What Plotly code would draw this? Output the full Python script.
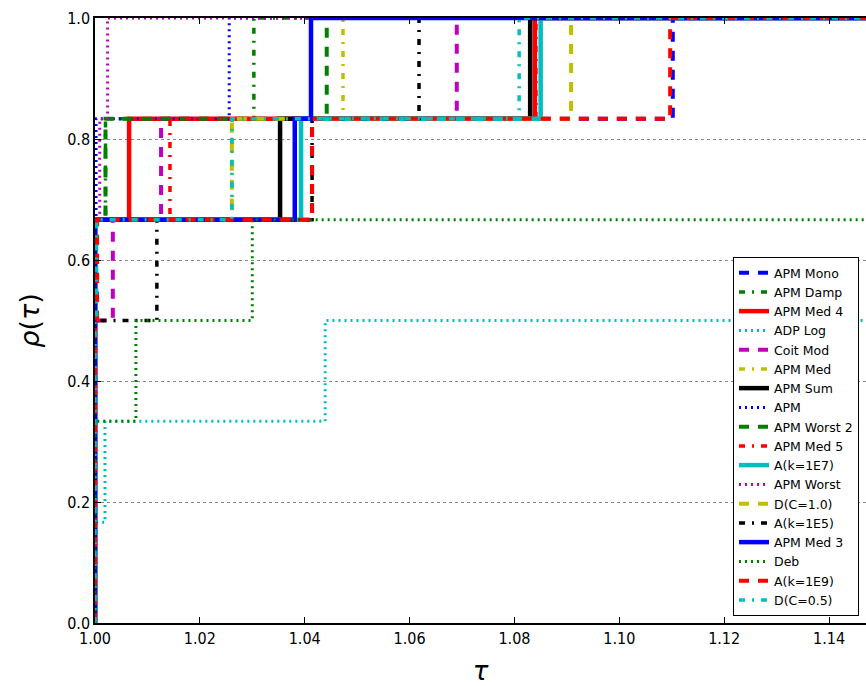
import plotly.graph_objects as go

# Performance profile: fraction of the 6 test problems solved within a factor tau of the best
N_PROBLEMS = 6
TAU_END = 1.2

solver_names = [
    "APM Mono", "APM Damp", "APM Med 4", "ADP Log", "Coit Mod", "APM Med",
    "APM Sum", "APM", "APM Worst 2", "APM Med 5", "A(k=1E7)", "APM Worst",
    "D(C=1.0)", "A(k=1E5)", "APM Med 3", "Deb", "A(k=1E9)", "D(C=0.5)",
]

# problems solved at tau = 1 (solver was best)
start_counts = [3, 4, 4, 1, 3, 4, 4, 4, 4, 4, 4, 4, 3, 3, 4, 2, 3, 3]

# tau values at which one more problem falls inside the profile
step_taus = [
    [1.0003, 1.0414, 1.1102],   # APM Mono
    [1.0020, 1.0303],           # APM Damp
    [1.0065, 1.0839],           # APM Med 4
    [1.0019, 1.0439],           # ADP Log
    [1.0034, 1.0126, 1.0690],   # Coit Mod
    [1.0262, 1.0473],           # APM Med
    [1.0353, 1.0830],           # APM Sum
    [1.0002, 1.0256],           # APM
    [1.0020, 1.0442],           # APM Worst 2
    [1.0143, 1.0841],           # APM Med 5
    [1.0393, 1.0850],           # A(k=1E7)
    [1.0009, 1.0024],           # APM Worst
    [1.0002, 1.0261, 1.0908],   # D(C=1.0)
    [1.0118, 1.0414, 1.0618],   # A(k=1E5)
    [1.0381, 1.0412],           # APM Med 3
    [1.0078, 1.0300],           # Deb
    [1.0004, 1.0414, 1.1097],   # A(k=1E9)
    [1.0003, 1.0261, 1.0809],   # D(C=0.5)
]

colors = {
    "b": "#0000ff", "g": "#008000", "r": "#ff0000", "c": "#00bfbf",
    "m": "#bf00bf", "y": "#bfbf00", "k": "#000000",
}
solver_colors = ["b", "g", "r", "c", "m", "y", "k", "b", "g", "r",
                 "c", "m", "y", "k", "b", "g", "r", "c"]
solver_styles = ["dashed", "dashdot", "solid", "dotted", "dashed", "dashdot",
                 "solid", "dotted", "dashed", "dashdot", "solid", "dotted",
                 "dashed", "dashdot", "solid", "dotted", "dashed", "dashdot"]

dash_map = {
    "solid": ("solid", 4.5),
    "dashed": ("10px,9px", 4),
    "dashdot": ("6px,7px,2px,7px", 3.5),
    "dotted": ("2px,4px", 3),
}

fig = go.Figure()
for name, c0, taus, col, sty in zip(solver_names, start_counts, step_taus,
                                    solver_colors, solver_styles):
    xs = [1.0, 1.0] + taus + [TAU_END]
    counts = [0, c0] + [c0 + i + 1 for i in range(len(taus))]
    counts = counts + [counts[-1]]
    ys = [k / N_PROBLEMS for k in counts]
    dash, width = dash_map[sty]
    fig.add_trace(go.Scatter(
        x=xs, y=ys, mode="lines", name=name,
        line=dict(color=colors[col], width=width, dash=dash, shape="hv"),
    ))

tick_font = dict(family="DejaVu Sans Condensed, DejaVu Sans", size=16, color="black")
fig.update_layout(
    width=866, height=686,
    margin=dict(l=95, r=0, t=18, b=63),
    paper_bgcolor="white", plot_bgcolor="white",
    showlegend=True,
    legend=dict(
        x=(733 - 95) / 771, y=(623 - 257) / 605, xanchor="left", yanchor="top",
        bgcolor="white", bordercolor="black", borderwidth=1,
        font=dict(family="DejaVu Sans", size=12.5, color="black"),
        itemwidth=30, tracegroupgap=0,
    ),
    xaxis=dict(
        range=[1.0, 1.0 + 771 / 5243],
        tickvals=[1.00, 1.02, 1.04, 1.06, 1.08, 1.10, 1.12, 1.14],
        ticktext=["1.00", "1.02", "1.04", "1.06", "1.08", "1.10", "1.12", "1.14"],
        ticks="inside", ticklen=6, tickcolor="black", mirror="ticks",
        showline=True, linecolor="black", linewidth=1.5,
        showgrid=False, zeroline=False, tickfont=tick_font,
        title=dict(text="τ", font=dict(family="DejaVu Sans", size=26, color="black",
                                       style="italic"), standoff=16),
    ),
    yaxis=dict(
        range=[0, 1.0],
        tickvals=[0.0, 0.2, 0.4, 0.6, 0.8, 1.0],
        ticktext=["0.0", "0.2", "0.4", "0.6", "0.8", "1.0"],
        ticks="inside", ticklen=6, tickcolor="black",
        showline=True, linecolor="black", linewidth=1.5,
        showgrid=True, gridcolor="#888888", griddash="dot", gridwidth=1,
        zeroline=False, tickfont=tick_font,
        title=dict(text="<i>ρ</i>(<i>τ</i>)", font=dict(family="DejaVu Sans", size=27,
                                                        color="black"), standoff=20),
    ),
)

fig.write_html("out.html")
